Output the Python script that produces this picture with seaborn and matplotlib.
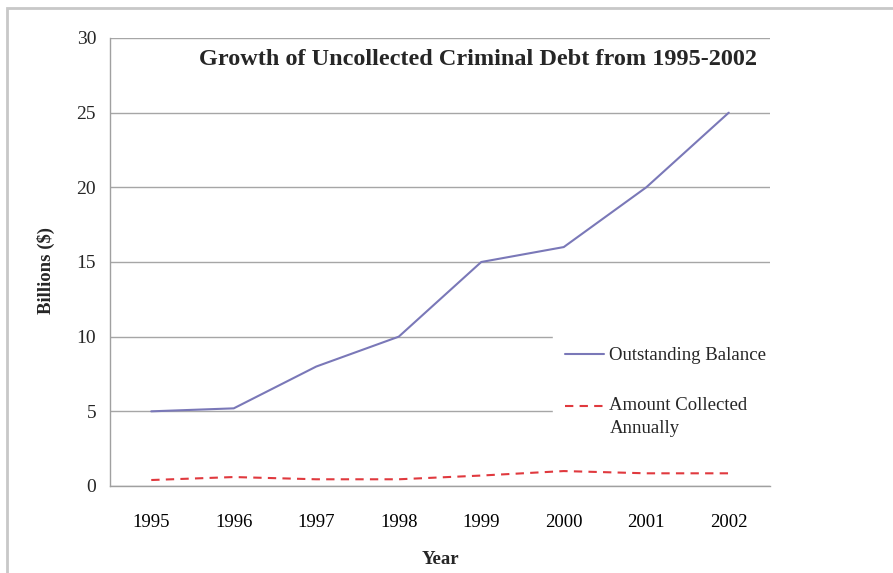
import matplotlib
matplotlib.use("Agg")
import matplotlib.pyplot as plt
import seaborn as sns
import pandas as pd
from matplotlib.patches import Rectangle
from matplotlib.ticker import FixedLocator
from matplotlib.legend_handler import HandlerLine2D

years = [1995, 1996, 1997, 1998, 1999, 2000, 2001, 2002]
outstanding = [5.0, 5.2, 8.0, 10.0, 15.0, 16.0, 20.0, 25.0]
collected = [0.4, 0.6, 0.45, 0.45, 0.7, 1.0, 0.85, 0.85]
series_names = ["Outstanding Balance", "Amount Collected\nAnnually"]
title = "Growth of Uncollected Criminal Debt from 1995-2002"

sns.set_theme(style="white")
plt.rcParams['font.family'] = ['Liberation Serif', 'DejaVu Serif']

df = pd.DataFrame({
    "Year": years * 2,
    "value": outstanding + collected,
    "series": [series_names[0]] * len(years) + [series_names[1]] * len(years),
})


class ShiftedHandler(HandlerLine2D):
    def __init__(self, shift, **kw):
        super().__init__(**kw)
        self.shift = shift

    def create_artists(self, legend, orig_handle, xdescent, ydescent, width, height,
                       fontsize, trans):
        arts = super().create_artists(legend, orig_handle, xdescent, ydescent, width,
                                      height, fontsize, trans)
        for a in arts:
            a.set_ydata(a.get_ydata() + self.shift * fontsize)
        return arts


fig = plt.figure(figsize=(8.93, 5.73), dpi=100)
ax = fig.add_axes([110/893, 1-486/573, 660/893, 448/573])

sns.lineplot(data=df, x="Year", y="value", hue="series", style="series",
             palette=["#7a78b8", "#e0393e"], dashes=[(None, None), (4, 3)],
             linewidth=1.5, ax=ax, legend=True)

ax.set_xlim(years[0]-0.5, years[-1]+0.5)
ax.set_ylim(0, 30)
ax.set_yticks([0, 5, 10, 15, 20, 25, 30])
ax.set_xticks(years)
ax.set_xticklabels([str(y) for y in years])
ax.xaxis.set_minor_locator(FixedLocator([y - 0.5 for y in years] + [years[-1] + 0.5]))
ax.tick_params(axis='x', which='major', length=0, labelsize=13.5, pad=20, colors='black')
ax.tick_params(axis='x', which='minor', length=6, width=1, color='#a0a0a0', direction='out')
ax.tick_params(axis='y', which='major', length=6, width=1, color='#a0a0a0', direction='out',
               labelsize=14, pad=4)
ax.grid(axis='y', color='#a6a6a6', linewidth=1)
for s in ['top', 'right']:
    ax.spines[s].set_visible(False)
for s in ['left', 'bottom']:
    ax.spines[s].set_color('#a0a0a0')
    ax.spines[s].set_linewidth(1)
ax.set_xlabel("Year", fontsize=13.5, fontweight='bold')
ax.set_ylabel("Billions ($)", fontsize=13.5, fontweight='bold')
ax.xaxis.set_label_coords(0.5, -0.145)
ax.yaxis.set_label_coords(-0.083, 0.48)

ax.text(0.558, 0.953, title, transform=ax.transAxes, ha='center', va='center',
        fontsize=17.5, fontweight='bold')

handles, labels = ax.get_legend_handles_labels()
leg = ax.legend(handles, labels, loc='upper left', bbox_to_anchor=(0.671, 0.0, 0.329, 0.337),
                mode='expand', frameon=True, fontsize=13.5, handlelength=2.1,
                handletextpad=0.27, labelspacing=1.75, borderpad=0.65, borderaxespad=0,
                handler_map={handles[1]: ShiftedHandler(0.6)})
for t in leg.get_texts():
    t.set_linespacing(1.45)
leg.get_frame().set_facecolor('white')
leg.get_frame().set_edgecolor('white')
leg.get_frame().set_alpha(1)
leg.get_frame().set_boxstyle('square', pad=0)

fig.patches.append(Rectangle((7/893, -0.1), 1.2, 1 - 8/573 + 0.1, transform=fig.transFigure,
                             fill=False, edgecolor='#c8c8c8', linewidth=2))

fig.savefig("out.png", dpi=100)
